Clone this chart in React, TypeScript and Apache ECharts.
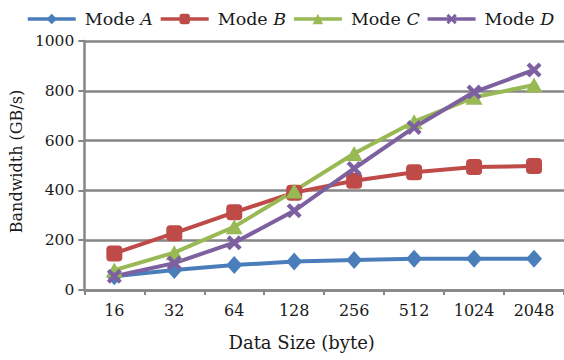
import React, { useEffect, useRef } from "react";
import * as echarts from "echarts";

const categories = ["16", "32", "64", "128", "256", "512", "1024", "2048"];
const modeA = [55, 80, 100, 114, 120, 126, 126, 126];
const modeB = [147, 228, 312, 391, 439, 473, 494, 498];
const modeC = [80, 150, 254, 398, 548, 676, 774, 823];
const modeD = [55, 108, 190, 318, 488, 653, 795, 884];
const yTicks = { min: 0, max: 1000, interval: 200 };

const FONT = "'DejaVu Serif', serif";
const GRID_COLOR = "#868686";
const TEXT = "#1a1a1a";
const crossPath =
  "path://M0,2 L2,0 L5,3 L8,0 L10,2 L7,5 L10,8 L8,10 L5,7 L2,10 L0,8 L3,5 Z";

export default function App() {
  const ref = useRef<HTMLDivElement>(null);
  useEffect(() => {
    document.body.style.margin = "0";
    if (!ref.current) return;
    const chart = echarts.init(ref.current, undefined, { renderer: "svg" });
    const mk = (
      name: string,
      data: number[],
      color: string,
      symbol: string,
      size: number | number[]
    ) => ({
      name,
      type: "line",
      data,
      symbol,
      symbolSize: size,
      showSymbol: true,
      lineStyle: { color, width: 4 },
      itemStyle: { color, borderWidth: 0 },
      emphasis: { disabled: true },
    });
    chart.setOption({
      animation: false,
      backgroundColor: "#ffffff",
      textStyle: { fontFamily: FONT },
      legend: {
        left: 21,
        top: 5,
        width: 543,
        itemWidth: 48,
        itemHeight: 13,
        itemGap: 6,
        lineStyle: { width: 3.5 },
        textStyle: {
          fontFamily: FONT,
          fontSize: 17.5,
          color: TEXT,
          padding: [0, 0, 0, 4],
          rich: {
            n: { fontFamily: FONT, fontSize: 17.5, color: TEXT },
            i: { fontFamily: FONT, fontSize: 17.5, fontStyle: "italic", color: TEXT },
          },
        },
        formatter: (name: string) => {
          const parts = name.split(" ");
          return `{n|${parts[0]} }{i|${parts[1]}}`;
        },
        data: ["Mode A", "Mode B", "Mode C", "Mode D"],
      },
      grid: { left: 83, top: 41, width: 483, height: 249, containLabel: false },
      xAxis: {
        type: "category",
        data: categories,
        boundaryGap: true,
        name: "Data Size (byte)",
        nameLocation: "middle",
        nameGap: 43,
        nameTextStyle: {
          fontFamily: FONT,
          fontSize: 18,
          color: TEXT,
          padding: [0, 45, 0, 0],
        },
        axisLine: { lineStyle: { color: GRID_COLOR, width: 2.5 } },
        axisTick: {
          show: true,
          alignWithLabel: false,
          length: 5,
          lineStyle: { color: GRID_COLOR, width: 2 },
        },
        axisLabel: { fontFamily: FONT, fontSize: 16, color: TEXT, margin: 12 },
      },
      yAxis: {
        type: "value",
        min: yTicks.min,
        max: yTicks.max,
        interval: yTicks.interval,
        name: "Bandwidth (GB/s)",
        nameLocation: "middle",
        nameGap: 57,
        nameTextStyle: {
          fontFamily: FONT,
          fontSize: 16,
          color: TEXT,
          padding: [0, 0, 0, 8],
        },
        axisLine: { show: true, lineStyle: { color: GRID_COLOR, width: 2.5 } },
        axisTick: { show: true, length: 6, lineStyle: { color: GRID_COLOR, width: 2 } },
        axisLabel: {
          fontFamily: FONT,
          fontSize: 15.5,
          color: TEXT,
          margin: 10,
          formatter: (v: number) => String(v),
        },
        splitLine: { show: true, lineStyle: { color: GRID_COLOR, width: 2.5 } },
      },
      series: [
        mk("Mode A", modeA, "#4A7EBB", "diamond", [16, 18]),
        mk("Mode B", modeB, "#BE4B48", "roundRect", 16),
        mk("Mode C", modeC, "#98B954", "triangle", [17, 15]),
        mk("Mode D", modeD, "#7D60A0", crossPath, 15),
      ],
    });
    return () => chart.dispose();
  }, []);
  return <div ref={ref} style={{ width: 564, height: 360 }} />;
}
